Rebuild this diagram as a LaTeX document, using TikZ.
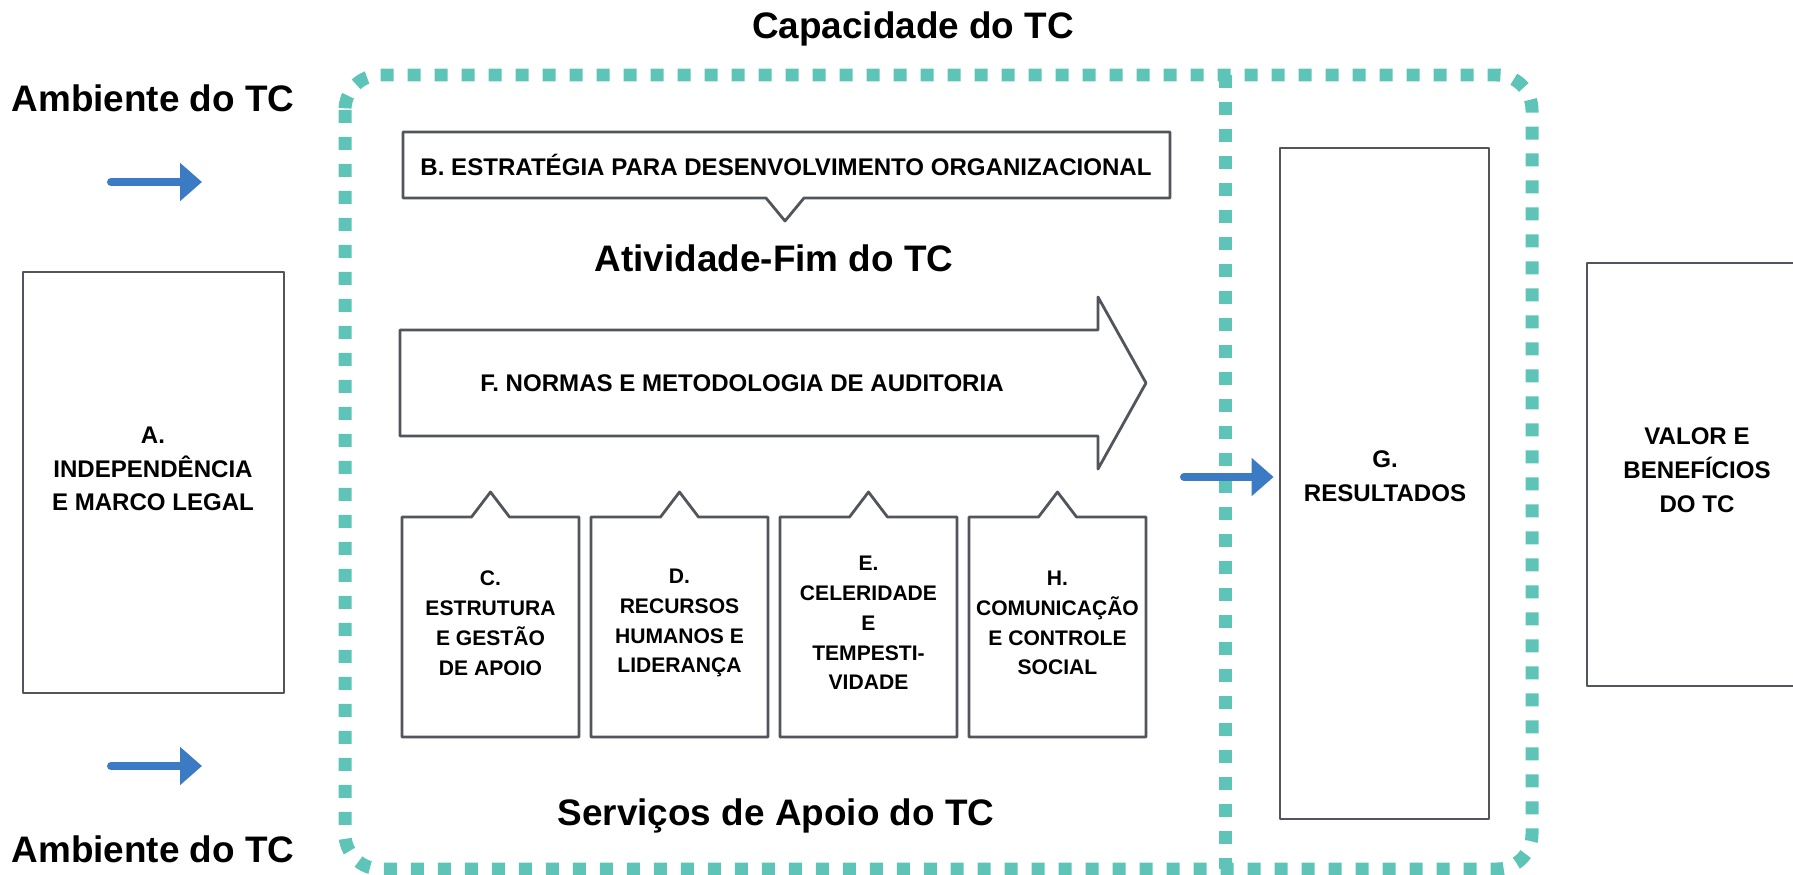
\documentclass[tikz,border=0pt]{standalone}
\usepackage{fontspec}
\setmainfont{Liberation Sans}
\usepackage{xcolor}
\usetikzlibrary{
    arrows.meta
}
\definecolor{tcteal}{HTML}{5DC4B7}
\definecolor{tcblue}{HTML}{3B7BC4}
\definecolor{tcgray}{HTML}{52565C}

\begin{document}
\begin{tikzpicture}[x=0.02cm,y=-0.02cm,line join=round,
    dotline/.style={draw=tcteal, line width=0.26cm, dash pattern=on 0.26cm off 0.28cm},
    flow/.style={draw=tcblue, line width=0.16cm, line cap=round, -{Triangle[length=0.44cm,width=0.74cm]}},
    title/.style={font=\fontsize{21}{25}\selectfont\bfseries, anchor=base},
    boxtext/.style={font=\fontsize{13.7}{19.2}\selectfont\bfseries, align=center},
    smalltext/.style={font=\fontsize{12}{17}\selectfont\bfseries, align=center}]
    \tikzstyle{sketch}=[draw=tcgray, line width=1.6pt]

    \useasboundingbox (0,0) rectangle (1793,875);
    \clip (0,0) rectangle (1793,875);

    % capacity frame
    \draw[dotline, rounded corners=0.7cm] (345,75) rectangle (1532,869);
    \draw[dotline] (1225,75) -- (1225,869);

    \node[title] (capTitle) at (913,38.5) {Capacidade do TC};
    \node[title] (envTop) at (153,112) {Ambiente do TC};
    \node[title] (envBot) at (153,862) {Ambiente do TC};
    \node[title] (coreTitle) at (774,271.5) {Atividade-Fim do TC};
    \node[title] (supTitle) at (776,825.5) {Servi\c{c}os de Apoio do TC};

    % side boxes
    \node[sketch, minimum width=5.22cm, minimum height=8.42cm] (boxA) at (153.5,482.5) {};
    \node[boxtext] (txtA) at (153,469) {A.\\INDEPEND\^ENCIA\\E MARCO LEGAL};
    \node[sketch, minimum width=4.18cm, minimum height=13.42cm] (boxG) at (1384.5,483.5) {};
    \node[boxtext] (txtG) at (1385,476) {G.\\RESULTADOS};
    \node[sketch, minimum width=4.4cm, minimum height=8.46cm] (boxV) at (1697,474.5) {};
    \node[boxtext] (txtV) at (1697,470) {VALOR E\\BENEF\'ICIOS\\DO TC};

    % strategy callout
    \draw[sketch] (403,132) -- (1170,132) -- (1170,198) -- (804,198) -- (785,221)
        -- (766,198) -- (403,198) -- cycle;
    \node[boxtext] (txtB) at (786,165) {B. ESTRAT\'EGIA PARA DESENVOLVIMENTO ORGANIZACIONAL};

    % audit arrow
    \draw[sketch] (400,330) -- (1098,330) -- (1098,297) -- (1146,383) -- (1098,469)
        -- (1098,436) -- (400,436) -- cycle;
    \node[boxtext] (txtF) at (742,383) {F. NORMAS E METODOLOGIA DE AUDITORIA};

    % support callouts
    \foreach \cx/\nm/\txt in {490.5/C/{C.\\ESTRUTURA\\E GEST\~AO\\DE APOIO},
            679.5/D/{D.\\RECURSOS\\HUMANOS E\\LIDERAN\c{C}A},
            868.5/E/{E.\\CELERIDADE\\E\\TEMPESTI-\\VIDADE},
            1057.5/H/{H.\\COMUNICA\c{C}\~AO\\E CONTROLE\\SOCIAL}} {
        \draw[sketch] (\cx-88.5,517) -- (\cx-19,517) -- (\cx,492) -- (\cx+19,517)
            -- (\cx+88.5,517) -- (\cx+88.5,737) -- (\cx-88.5,737) -- cycle;
        \node[smalltext] (txt\nm) at (\cx,623) {\txt};
    }

    % flows
    \coordinate (inTopS) at (111,182);
    \coordinate (inTopE) at (202,182);
    \coordinate (inBotS) at (111,766);
    \coordinate (inBotE) at (202,766);
    \coordinate (outS) at (1184,477);
    \draw[flow] (inTopS) -- (inTopE);
    \draw[flow] (inBotS) -- (inBotE);
    \draw[flow, shorten >=0.1cm] (outS) -- (boxG.west |- outS);
\end{tikzpicture}
\end{document}
